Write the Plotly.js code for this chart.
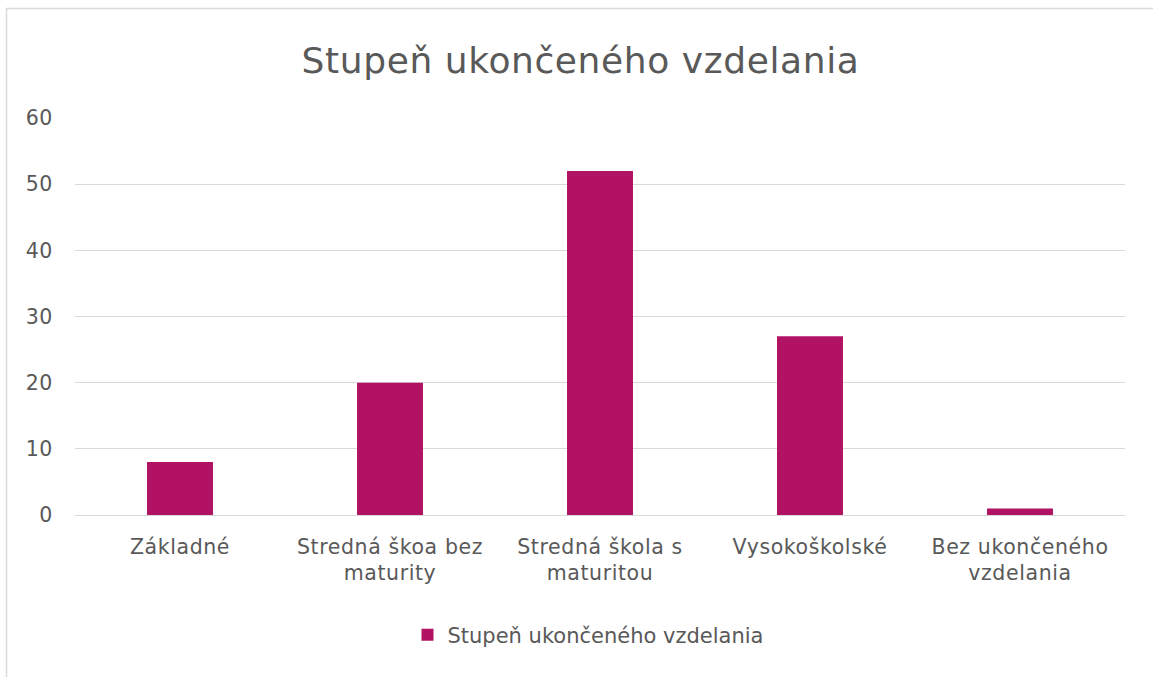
<!DOCTYPE html>
<html>
<head>
<meta charset="utf-8">
<script src="https://cdn.plot.ly/plotly-3.0.1.min.js"></script>
<style>
html,body{margin:0;padding:0;background:#fff;}
#chart{width:1153px;height:677px;}
#chart .xtick text, #chart .ytick text, #chart .gtitle{letter-spacing:0.6px;}
</style>
</head>
<body>
<div id="chart"></div>
<script>
const categories = ["Základné", "Stredná škoa bez<br>maturity", "Stredná škola s<br>maturitou", "Vysokoškolské", "Bez ukončeného<br>vzdelania"];
const values = [8, 20, 52, 27, 1];
const seriesName = "Stupeň ukončeného vzdelania";
const chartTitle = "Stupeň ukončeného vzdelania";
const yTicks = [0, 10, 20, 30, 40, 50, 60];

const FONT = "'DejaVu Sans', sans-serif";
const TXT = "#595959";

const L = 75, R = 1125, T = 118, B = 515;
const W = 1153, H = 677;
const px2x = p => (p - L) / (R - L);
const py2y = p => (B - p) / (B - T);

const trace = {
  type: "bar",
  x: categories,
  y: values,
  name: seriesName,
  marker: {color: "#B11263"},
  showlegend: true,
  hoverinfo: "x+y"
};

const layout = {
  width: W, height: H,
  margin: {l: L, r: W - R, t: T, b: H - B, pad: 0},
  paper_bgcolor: "#fff",
  plot_bgcolor: "#fff",
  font: {family: FONT, color: TXT, size: 20},
  title: {text: chartTitle, font: {family: FONT, size: 36, color: TXT}, x: px2x(580.5), xref: "paper", xanchor: "center", y: 1 - 60/H, yanchor: "middle"},
  bargap: 0.686,
  xaxis: {
    type: "category",
    showgrid: false, zeroline: false, showline: false, ticks: "",
    ticklabelstandoff: 17,
    tickfont: {family: FONT, size: 20.5, color: TXT},
    automargin: false
  },
  yaxis: {
    range: [0, 60],
    tickvals: yTicks,
    showgrid: true, gridcolor: "#d9d9d9", gridwidth: 1,
    zeroline: true, zerolinecolor: "#d9d9d9", zerolinewidth: 1,
    showline: false, ticks: "",
    ticklabelstandoff: 21,
    tickfont: {family: FONT, size: 20.5, color: TXT},
    automargin: false
  },
  showlegend: true,
  legend: {
    orientation: "h",
    x: px2x(588), xanchor: "center",
    y: py2y(635), yanchor: "middle",
    font: {family: FONT, size: 21, color: TXT},
    itemwidth: 20,
    bgcolor: "rgba(0,0,0,0)"
  },
  shapes: [
    {type: "path", xref: "paper", yref: "paper",
     path: `M ${px2x(6.5)} ${py2y(700)} L ${px2x(6.5)} ${py2y(8.5)} L ${px2x(1160)} ${py2y(8.5)}`,
     line: {color: "#d9d9d9", width: 1.5}, layer: "below"}
  ]
};

Plotly.newPlot("chart", [trace], layout, {displayModeBar: false, staticPlot: true});
</script>
</body>
</html>
